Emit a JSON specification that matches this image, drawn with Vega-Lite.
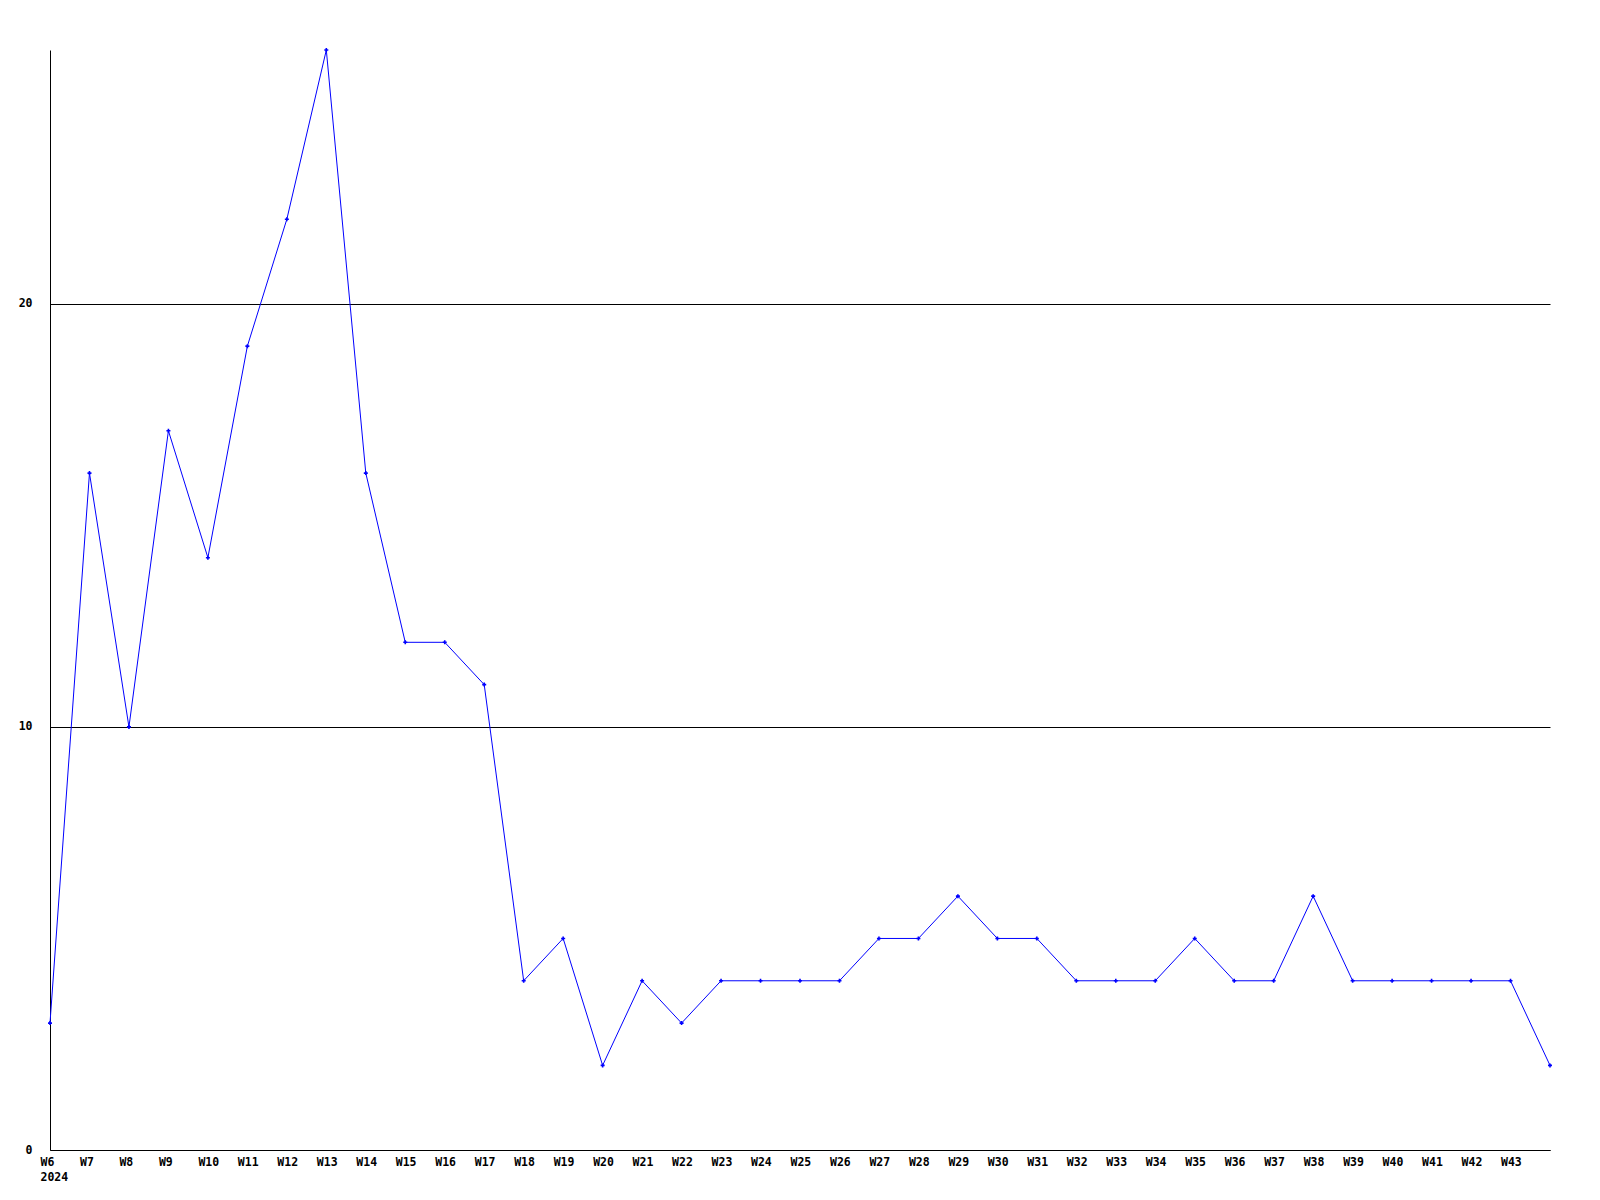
{
  "$schema": "https://vega.github.io/schema/vega-lite/v6.json",
  "width": 1500,
  "height": 1100,
  "autosize": {"type": "none"},
  "padding": {"left": 50, "top": 50, "right": 50, "bottom": 50},
  "background": "white",
  "config": {"view": {"stroke": null}},
  "data": {"values": [
    {"week": "W6", "value": 3}, {"week": "W7", "value": 16}, {"week": "W8", "value": 10},
    {"week": "W9", "value": 17}, {"week": "W10", "value": 14}, {"week": "W11", "value": 19},
    {"week": "W12", "value": 22}, {"week": "W13", "value": 26}, {"week": "W14", "value": 16},
    {"week": "W15", "value": 12}, {"week": "W16", "value": 12}, {"week": "W17", "value": 11},
    {"week": "W18", "value": 4}, {"week": "W19", "value": 5}, {"week": "W20", "value": 2},
    {"week": "W21", "value": 4}, {"week": "W22", "value": 3}, {"week": "W23", "value": 4},
    {"week": "W24", "value": 4}, {"week": "W25", "value": 4}, {"week": "W26", "value": 4},
    {"week": "W27", "value": 5}, {"week": "W28", "value": 5}, {"week": "W29", "value": 6},
    {"week": "W30", "value": 5}, {"week": "W31", "value": 5}, {"week": "W32", "value": 4},
    {"week": "W33", "value": 4}, {"week": "W34", "value": 4}, {"week": "W35", "value": 5},
    {"week": "W36", "value": 4}, {"week": "W37", "value": 4}, {"week": "W38", "value": 6},
    {"week": "W39", "value": 4}, {"week": "W40", "value": 4}, {"week": "W41", "value": 4},
    {"week": "W42", "value": 4}, {"week": "W43", "value": 4}, {"week": "W44", "value": 2}
  ]},
  "encoding": {
    "x": {
      "field": "week", "type": "ordinal", "sort": null,
      "scale": {"type": "point", "padding": 0},
      "axis": {
        "title": null, "labelAngle": 0, "ticks": false, "domain": true, "domainColor": "black",
        "labelFont": "DejaVu Sans Mono", "labelFontWeight": "bold", "labelFontSize": 11.5, "labelColor": "black",
        "labelAlign": "left", "labelOffset": -10, "labelPadding": 6, "labelLineHeight": 15,
        "labelOverlap": false,
        "labelExpr": "datum.value == 'W44' ? '' : (datum.value == 'W6' ? ['W6', '2024'] : datum.value)"
      }
    },
    "y": {
      "field": "value", "type": "quantitative",
      "scale": {"domain": [0, 26], "nice": false},
      "axis": {
        "title": null, "values": [0, 10, 20], "ticks": false, "grid": true, "gridColor": "black", "gridOpacity": 1,
        "domain": true, "domainColor": "black",
        "labelFont": "DejaVu Sans Mono", "labelFontWeight": "bold", "labelFontSize": 11.5, "labelColor": "black",
        "labelPadding": 18
      }
    }
  },
  "layer": [
    {"mark": {"type": "line", "color": "#0000ff", "strokeWidth": 1}},
    {"mark": {"type": "point", "shape": "cross", "filled": true, "color": "#0000ff", "size": 16, "opacity": 1}}
  ]
}
